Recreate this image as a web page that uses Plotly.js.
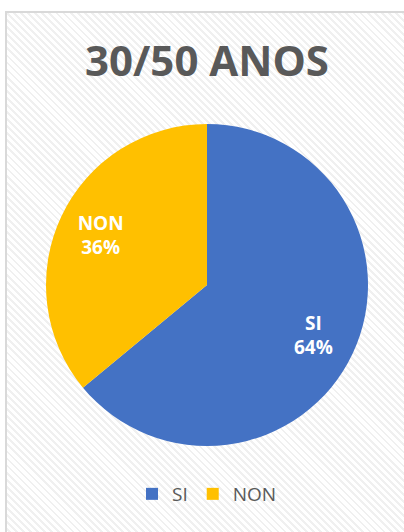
<!DOCTYPE html>
<html>
<head>
<meta charset="utf-8">
<script src="https://cdn.plot.ly/plotly-3.0.1.min.js"></script>
<style>
  html, body { margin: 0; padding: 0; background: #ffffff; width: 404px; height: 532px; overflow: hidden; }
  #frame {
    position: absolute; left: 5px; top: 11px; width: 420px; height: 540px;
    border: 2px solid #d9d9d9; box-sizing: border-box;
    background: repeating-linear-gradient(45deg, #ffffff 0px, #ffffff 3px, #f0f0f0 3px, #f0f0f0 5px);
  }
  #chart { position: absolute; left: 0; top: 0; width: 404px; height: 532px; }
</style>
</head>
<body>
<div id="frame"></div>
<div id="chart"></div>
<script>
const titleText = "30/50 ANOS";
const categories = ["SI", "NON"];
const values = [64, 36];
const colors = ["#4472C4", "#FFC000"];

const pieTrace = {
  type: "pie",
  labels: categories,
  values: values,
  sort: false,
  direction: "clockwise",
  rotation: 0,
  marker: { colors: colors, line: { width: 0 } },
  textinfo: "none",
  hoverinfo: "none"
};

const labelTrace = {
  type: "pie",
  labels: categories,
  values: values,
  sort: false,
  direction: "clockwise",
  rotation: 0,
  hole: 0.46,
  showlegend: false,
  marker: { colors: ["rgba(0,0,0,0)", "rgba(0,0,0,0)"], line: { width: 0 } },
  texttemplate: "%{label}<br>%{percent}",
  textposition: "inside",
  insidetextorientation: "horizontal",
  textfont: { family: "Open Sans, sans-serif", size: 19, color: "#ffffff", weight: "bold" },
  hoverinfo: "none"
};

const layout = {
  width: 404,
  height: 532,
  margin: { l: 46, r: 36, t: 124, b: 86 },
  paper_bgcolor: "rgba(0,0,0,0)",
  plot_bgcolor: "rgba(0,0,0,0)",
  title: {
    text: "<b>" + titleText + "</b>",
    font: { family: "Open Sans, sans-serif", size: 42, color: "#595959" },
    x: 0.5, xref: "paper", xanchor: "center",
    y: 1 - 61 / 532, yref: "container", yanchor: "middle"
  },
  showlegend: true,
  legend: {
    orientation: "h",
    x: 0.5, xref: "paper", xanchor: "center",
    y: 1 - 494 / 532, yref: "container", yanchor: "middle",
    font: { family: "Open Sans, sans-serif", size: 19, color: "#595959" },
    bgcolor: "rgba(0,0,0,0)",
    itemwidth: 30
  }
};

Plotly.newPlot("chart", [pieTrace, labelTrace], layout, { displayModeBar: false, staticPlot: true });
</script>
</body>
</html>
